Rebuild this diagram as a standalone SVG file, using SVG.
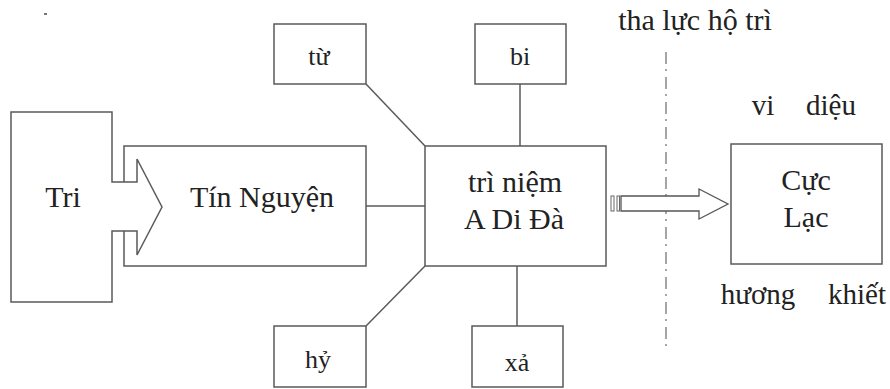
<svg xmlns="http://www.w3.org/2000/svg" width="890" height="389" viewBox="0 0 890 389">
<style>
.box{fill:#fff;stroke:#5a5a5a;stroke-width:1.5}
.ln{fill:none;stroke:#5a5a5a;stroke-width:1.5}
.t{font-family:'Liberation Serif','DejaVu Serif',serif;font-size:30px;fill:#222;text-anchor:middle}
.md{font-size:29px}
.sm{font-size:26px}
</style>
<rect width="890" height="389" fill="#fff"/>
<rect x="44" y="13" width="3" height="2" fill="#777"/>
<g id="connectors">
<line class="ln" x1="366" y1="206" x2="425" y2="206"/>
<line class="ln" x1="366" y1="84" x2="425" y2="146"/>
<line class="ln" x1="520" y1="84" x2="520" y2="146"/>
<line class="ln" x1="366" y1="326" x2="425" y2="266"/>
<line class="ln" x1="517" y1="266" x2="517" y2="326"/>
<line x1="666" y1="52" x2="666" y2="350" stroke="#888" stroke-width="1.5" stroke-dasharray="12 5 2 6"/>
<g id="arrow">
<rect x="611" y="196" width="3" height="15" fill="#fff" stroke="#666" stroke-width="1"/>
<rect x="617" y="196" width="2.5" height="15" fill="#fff" stroke="#666" stroke-width="1"/>
<path d="M621,196 H699 V189 L728,204 L699,219 V211 H621 Z" fill="#fff" stroke="#555" stroke-width="1.3"/>
</g>
</g>
<g id="tinnguyen">
<rect class="box" x="124" y="146" width="242" height="120"/>
<text class="t" x="262" y="207">Tín Nguyện</text>
</g>
<g id="tri">
<path class="box" d="M11,112 H112 V182 H137 V159 L162,207 L137,255 V231 H112 V302 H11 Z"/>
<text class="t" x="63" y="207">Tri</text>
</g>
<g id="tu">
<rect class="box" x="274" y="24" width="92" height="60"/>
<text class="t sm" x="319" y="65">từ</text>
</g>
<g id="bi">
<rect class="box" x="475" y="24" width="91" height="60"/>
<text class="t sm" x="520" y="65">bi</text>
</g>
<g id="hy">
<rect class="box" x="274" y="326" width="92" height="61"/>
<text class="t sm" x="318" y="368">hỷ</text>
</g>
<g id="xa">
<rect class="box" x="472" y="326" width="91" height="61"/>
<text class="t sm" x="517" y="371">xả</text>
</g>
<g id="trinien">
<rect class="box" x="425" y="146" width="181" height="120"/>
<text class="t" x="515" y="192">trì niệm</text>
<text class="t" x="514" y="229">A Di Đà</text>
</g>
<g id="cuclac">
<rect class="box" x="731" y="144" width="151" height="120"/>
<text class="t" x="806" y="190">Cực</text>
<text class="t" x="806" y="227">Lạc</text>
</g>
<g id="labels">
<text class="t" x="695" y="30">tha lực hộ trì</text>
<text class="t md" x="763" y="115">vi</text>
<text class="t md" x="831" y="115">diệu</text>
<text class="t md" x="758" y="304">hương</text>
<text class="t md" x="857" y="304">khiết</text>
</g>
</svg>
